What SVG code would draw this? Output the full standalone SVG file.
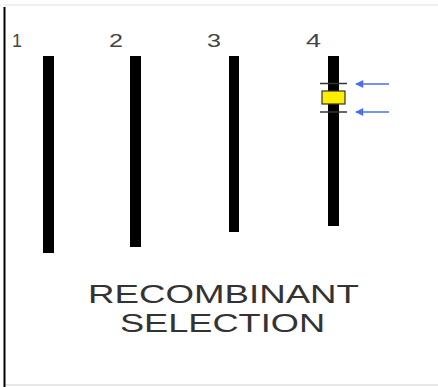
<svg xmlns="http://www.w3.org/2000/svg" width="438" height="387" viewBox="0 0 438 387">
<defs>
<style>
.bar{fill:#000}
.num{font-family:"Liberation Sans",Arial,sans-serif;font-size:19px;fill:#444}
.title{font-family:"Liberation Sans",Arial,sans-serif;font-size:26.5px;fill:#333}
.tick{stroke:#333;stroke-width:1.5}
.arrow{stroke:#4a6cf7;stroke-width:1.5;fill:none}
</style>
<marker id="ah" viewBox="0 0 10 10" refX="9" refY="5" markerWidth="10" markerHeight="8" orient="auto" markerUnits="userSpaceOnUse">
<path d="M0,0 L10,5 L0,10 Z" fill="#4a6cf7"/>
</marker>
</defs>
<rect x="0" y="0" width="438" height="387" fill="#fff"/>
<line x1="4" y1="5" x2="438" y2="5" stroke="#e8e8e8" stroke-width="1.5"/>
<line x1="4" y1="385" x2="438" y2="385" stroke="#e0e0e0" stroke-width="1.5"/>
<line x1="4.5" y1="7" x2="4.5" y2="387" stroke="#000" stroke-width="2"/>
<g id="chrom1">
<text class="num" x="12" y="47" textLength="10" lengthAdjust="spacingAndGlyphs">1</text>
<rect class="bar" x="43" y="56" width="11" height="197"/>
</g>
<g id="chrom2">
<text class="num" x="109" y="47" textLength="14" lengthAdjust="spacingAndGlyphs">2</text>
<rect class="bar" x="130" y="56" width="11" height="191"/>
</g>
<g id="chrom3">
<text class="num" x="207" y="47" textLength="14" lengthAdjust="spacingAndGlyphs">3</text>
<rect class="bar" x="229" y="56" width="10" height="176"/>
</g>
<g id="chrom4">
<text class="num" x="306" y="47" textLength="15" lengthAdjust="spacingAndGlyphs">4</text>
<rect class="bar" x="328" y="56" width="11" height="170"/>
<line class="tick" x1="320" y1="83.5" x2="347" y2="83.5"/>
<line class="tick" x1="320" y1="112" x2="347" y2="112"/>
<rect x="322" y="91" width="23" height="13" fill="#ffee00" stroke="#333" stroke-width="1.2"/>
</g>
<g id="connectors">
<line class="arrow" x1="389" y1="84" x2="356" y2="84" marker-end="url(#ah)"/>
<line class="arrow" x1="389" y1="112" x2="356" y2="112" marker-end="url(#ah)"/>
</g>
<g id="label">
<text class="title" x="88" y="303" textLength="271" lengthAdjust="spacingAndGlyphs">RECOMBINANT</text>
<text class="title" x="120" y="332" textLength="205" lengthAdjust="spacingAndGlyphs">SELECTION</text>
</g>
</svg>
